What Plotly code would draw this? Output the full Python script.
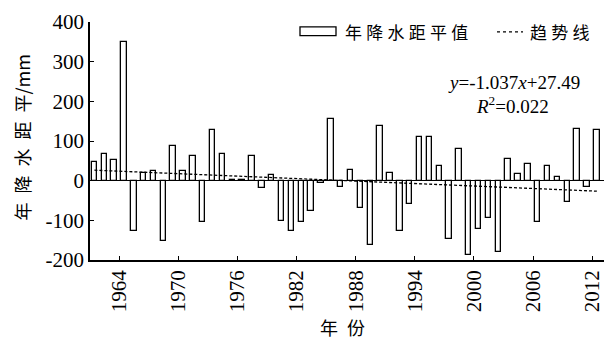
import plotly.graph_objects as go

# Annual precipitation anomaly (mm), 1961-2012
years = list(range(1961, 2013))
anomaly = [
    48, 67, 53, 350, -126, 20, 24, -152, 88, 24,
    63, -105, 127, 67, 2, 1, 62, -19, 14, -101,
    -128, -103, -77, -6, 156, -16, 28, -68, -163, 139,
    20, -126, -58, 110, 110, 36, -147, 80, -188, -123,
    -93, -180, 54, 16, 41, -103, 36, 10, -54, 131,
    -16, 129,
]

# Linear trend fitted on year index (1..n)
slope = -1.037
intercept = 27.49
r_squared = 0.022

x_ticks = [1964, 1970, 1976, 1982, 1988, 1994, 2000, 2006, 2012]
y_ticks = [-200, -100, 0, 100, 200, 300, 400]
y_tick_text = [str(v) for v in y_ticks]

bar_offset = 0.2
bar_width = 0.55
bar_center = bar_offset + bar_width / 2

trend_x = [yr + bar_center for yr in years]
trend_y = [slope * (i + 1) + intercept for i in range(len(years))]

W, H = 614, 345
ML, MR, MT, MB = 90, 10, 17, 85
plot_w = W - ML - MR
plot_h = H - MT - MB


def px_x(px):
    return (px - ML) / plot_w


def px_y(py):
    return (H - MB - py) / plot_h


serif = "Liberation Serif"
cjk = "Noto Sans CJK SC"

fig = go.Figure()
fig.add_trace(go.Bar(
    x=years, y=anomaly, width=bar_width, offset=bar_offset,
    marker=dict(color="white", line=dict(color="black", width=1.3)),
    name="年降水距平值", showlegend=False,
))
fig.add_trace(go.Scatter(
    x=trend_x, y=trend_y, mode="lines",
    line=dict(color="black", width=1.3, dash="3px,2px"),
    name="趋势线", showlegend=False,
))

# Legend drawn by hand: outlined box for bars, dotted sample for trend
shapes = [
    dict(type="rect", xref="paper", yref="paper",
         x0=px_x(300), x1=px_x(336), y0=px_y(31), y1=px_y(22),
         line=dict(color="black", width=1.3), fillcolor="white"),
    dict(type="line", xref="paper", yref="paper",
         x0=px_x(497), x1=px_x(523), y0=px_y(27), y1=px_y(27),
         line=dict(color="black", width=1.2, dash="dot")),
]

annotations = [
    dict(text="年\u2005降\u2005水\u2005距\u2005平\u2005值", xref="paper", yref="paper",
         x=px_x(343), y=px_y(27), xanchor="left", yanchor="middle",
         showarrow=False, font=dict(family=cjk, size=17, color="black")),
    dict(text="趋\u2005势\u2005线", xref="paper", yref="paper",
         x=px_x(528), y=px_y(27), xanchor="left", yanchor="middle",
         showarrow=False, font=dict(family=cjk, size=17, color="black")),
    dict(text=f"<i>y</i>={slope}<i>x</i>+{intercept}", xref="paper", yref="paper",
         x=px_x(514), y=px_y(79), xanchor="center", yanchor="middle",
         showarrow=False, font=dict(family=serif, size=19, color="black")),
    dict(text=f"<i>R</i><sup>2</sup>={r_squared:.3f}", xref="paper", yref="paper",
         x=px_x(512), y=px_y(102), xanchor="center", yanchor="middle",
         showarrow=False, font=dict(family=serif, size=19, color="black")),
    dict(text="年\u2002降\u2002水\u2002距\u2002平/mm", xref="paper", yref="paper",
         x=px_x(22), y=px_y(135), xanchor="center", yanchor="middle",
         textangle=-90, showarrow=False,
         font=dict(family=cjk, size=18, color="black")),
    dict(text="年\u2002份", xref="paper", yref="paper",
         x=px_x(342), y=px_y(328), xanchor="center", yanchor="middle",
         showarrow=False, font=dict(family=cjk, size=18, color="black")),
]

fig.update_layout(
    width=W, height=H,
    margin=dict(l=ML, r=MR, t=MT, b=MB),
    paper_bgcolor="white", plot_bgcolor="white",
    shapes=shapes, annotations=annotations,
    showlegend=False,
    bargap=0,
)
fig.update_xaxes(
    range=[1961.03, 2013.2], tickvals=x_ticks, tickangle=-90,
    ticks="inside", ticklen=4, tickwidth=1.3, tickcolor="black",
    showline=True, linecolor="black", linewidth=1.5,
    showgrid=False, zeroline=False,
    tickfont=dict(family=serif, size=21, color="black"),
)
fig.update_yaxes(
    range=[-200, 400], tickvals=y_ticks, ticktext=y_tick_text,
    ticks="inside", ticklen=4, tickwidth=1.3, tickcolor="black",
    showline=True, linecolor="black", linewidth=1.5,
    showgrid=False, zeroline=True, zerolinecolor="black", zerolinewidth=1.3,
    tickfont=dict(family=serif, size=21, color="black"),
)

fig.write_html("out.html")
